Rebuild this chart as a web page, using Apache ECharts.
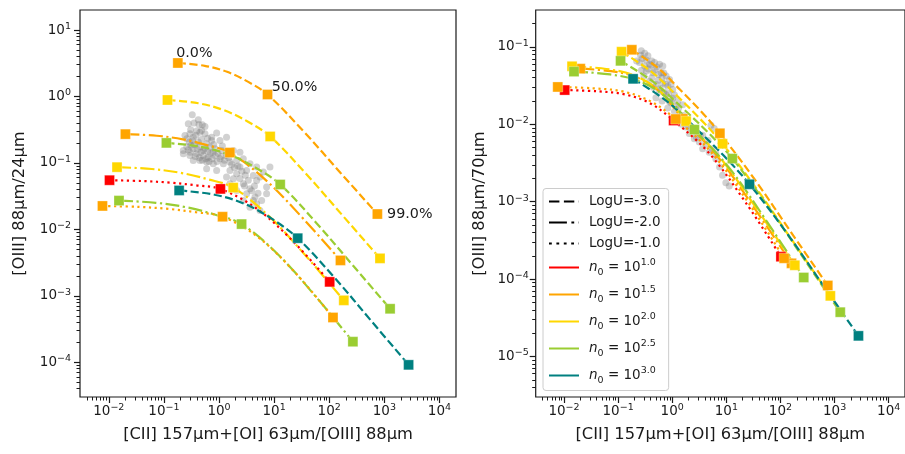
<!DOCTYPE html>
<html><head><meta charset="utf-8">
<script src="https://cdn.jsdelivr.net/npm/echarts@6/dist/echarts.min.js"></script>
<style>html,body{margin:0;padding:0;background:#fff}#c{width:905px;height:454px}</style>
</head><body><div id="c"></div>
<script>
// ---------------- data ----------------
const densityLevels = ['1.0', '1.5', '2.0', '2.5', '3.0'];
const logULevels = ['-3.0', '-2.0', '-1.0'];

// nine model tracks (density, logU); points run from 0% to 99% mixing fraction
const modelDensity = ['1.5', '2.0', '1.5', '2.5', '2.0', '1.0', '3.0', '2.5', '1.5'];
const modelLogU = ['-3.0', '-3.0', '-2.0', '-3.0', '-2.0', '-1.0', '-3.0', '-2.0', '-1.0'];
const modelX = [
  [0.179, 0.550, 1.40, 3.33, 7.59, 34.5, 164, 748],
  [0.116, 0.420, 1.23, 3.30, 8.49, 38.6, 184, 835],
  [0.0200, 0.0741, 0.221, 0.603, 1.57, 7.23, 34.8, 160],
  [0.111, 0.462, 1.52, 4.54, 12.9, 58.9, 280, 1273],
  [0.0141, 0.0604, 0.203, 0.621, 1.81, 8.32, 40.0, 184],
  [0.0103, 0.0415, 0.132, 0.384, 1.06, 4.80, 22.6, 102],
  [0.189, 0.836, 2.88, 9.02, 26.8, 124, 598, 2760],
  [0.0153, 0.0713, 0.256, 0.834, 2.57, 11.9, 57.9, 269],
  [0.00767, 0.0345, 0.121, 0.384, 1.16, 5.31, 25.5, 117]
];
const modelY24 = [
  [3.19, 2.89, 2.35, 1.67, 1.07, 0.296, 0.0695, 0.0170],
  [0.885, 0.791, 0.621, 0.420, 0.250, 0.0675, 0.0154, 0.00366],
  [0.271, 0.256, 0.226, 0.185, 0.143, 0.0541, 0.0141, 0.00341],
  [0.200, 0.175, 0.133, 0.0853, 0.0473, 0.0124, 0.00276, 0.000638],
  [0.0863, 0.0809, 0.0708, 0.0568, 0.0425, 0.0154, 0.00377, 0.000854],
  [0.0549, 0.0533, 0.0504, 0.0459, 0.0406, 0.0206, 0.00647, 0.00162],
  [0.0385, 0.0332, 0.0243, 0.0145, 0.00736, 0.00189, 0.000406, 0.0000914],
  [0.0271, 0.0251, 0.0215, 0.0167, 0.0120, 0.00416, 0.000959, 0.000204],
  [0.0225, 0.0218, 0.0203, 0.0181, 0.0155, 0.00745, 0.00212, 0.000472]
];
const modelY70 = [
  [0.0919, 0.0532, 0.0279, 0.0150, 0.00766, 0.00188, 0.000385, 0.0000828],
  [0.0867, 0.0474, 0.0233, 0.0117, 0.00561, 0.00138, 0.000283, 0.0000608],
  [0.0524, 0.0486, 0.0406, 0.0260, 0.0118, 0.00369, 0.000785, 0.000160],
  [0.0661, 0.0348, 0.0164, 0.00791, 0.00361, 0.000875, 0.000177, 0.0000374],
  [0.0562, 0.0519, 0.0426, 0.0261, 0.0110, 0.00345, 0.000736, 0.000151],
  [0.0277, 0.0267, 0.0244, 0.0188, 0.0112, 0.00424, 0.000984, 0.000195],
  [0.0387, 0.0194, 0.00859, 0.00392, 0.00168, 0.000415, 0.0000857, 0.0000185],
  [0.0480, 0.0441, 0.0358, 0.0213, 0.00855, 0.00261, 0.000536, 0.000105],
  [0.0304, 0.0292, 0.0266, 0.0201, 0.0117, 0.00432, 0.000973, 0.000186]
];
const markerIndex = [0, 4, 7];
const fractionLabels = ['0.0%', '50.0%', '99.0%'];

// observed sample (grey points)
const cloud24X = [0.327,0.277,0.352,0.433,0.498,0.306,0.393,0.484,0.556,0.906,0.735,0.241,0.341,0.289,0.421,0.596,1.04,1.37,0.225,0.277,0.341,0.451,0.519,0.686,0.846,1.12,0.225,0.297,0.393,0.519,0.640,0.846,1.04,1.37,1.82,2.40,0.341,0.451,0.596,0.787,1.20,1.58,2.09,2.76,3.65,4.82,0.906,1.58,2.40,3.17,4.19,5.54,1.82,2.76,3.65,4.82,2.09,3.17,4.19,4.82,5.54,2.76,3.65,4.50,5.94,7.31,1.37,6.37,8.41,2.09,7.31,1.58,0.596,0.735,0.556,0.421,0.297,
  0.26,0.31,0.36,0.40,0.47,0.55,0.62,0.70,0.78,0.95,1.1,0.30,0.37,0.44,0.50,0.58,0.66,0.75,0.92,1.25,1.5,1.7,1.9,2.2,2.6,3.0,3.4,2.4,2.9,3.9,4.4,5.1,0.26,0.33,0.48,0.62,0.38,0.45,0.80,1.15];
const cloud24Y = [0.530,0.388,0.397,0.379,0.375,0.315,0.301,0.308,0.274,0.281,0.244,0.259,0.244,0.206,0.206,0.194,0.218,0.244,0.154,0.158,0.163,0.173,0.154,0.173,0.163,0.154,0.137,0.129,0.137,0.129,0.122,0.129,0.115,0.129,0.154,0.145,0.109,0.109,0.103,0.0970,0.0970,0.103,0.109,0.115,0.0970,0.0865,0.0771,0.0771,0.0865,0.0771,0.0649,0.0612,0.0577,0.0486,0.0408,0.0545,0.0385,0.0344,0.0272,0.0243,0.0193,0.0272,0.0216,0.0306,0.0272,0.0344,0.0612,0.0728,0.0865,0.0687,0.0433,0.0486,0.0817,0.218,0.354,0.446,0.274,
  0.175,0.185,0.19,0.16,0.145,0.165,0.15,0.14,0.145,0.14,0.125,0.145,0.125,0.12,0.11,0.115,0.105,0.115,0.105,0.11,0.12,0.095,0.085,0.09,0.075,0.065,0.055,0.058,0.045,0.038,0.045,0.035,0.23,0.215,0.225,0.235,0.26,0.29,0.19,0.18];
const cloud70X = [0.249,0.308,0.381,0.471,0.582,0.670,0.331,0.439,0.624,0.771,0.889,0.381,0.505,0.670,0.828,1.02,0.582,0.771,1.02,1.26,0.889,1.18,1.56,0.828,1.10,1.36,1.80,2.07,2.56,3.16,3.65,4.83,6.41,2.75,3.65,6.41,9.79,11.3,5.97,5.19,0.268,0.355,
  0.22,0.28,0.33,0.42,0.52,0.27,0.36,0.48,0.56,0.7,0.30,0.42,0.55,0.65,0.75,0.95,0.45,0.6,0.7,0.85,1.1,0.5,0.65,0.95,1.3,1.6,1.2,1.5,2.0,2.3,2.8,3.3,4.2,4.6,5.5,7.5,8.5,0.26,0.31,0.4];
const cloud70Y = [0.0628,0.0568,0.0597,0.0628,0.0597,0.0568,0.0488,0.0464,0.0464,0.0420,0.0380,0.0361,0.0326,0.0343,0.0310,0.0281,0.0267,0.0241,0.0218,0.0197,0.0197,0.0170,0.0179,0.0162,0.0146,0.0126,0.00927,0.00759,0.00652,0.00590,0.00482,0.00436,0.00415,0.00798,0.00722,0.00357,0.00176,0.00160,0.00882,0.00976,0.0893,0.0767,
  0.066,0.071,0.068,0.066,0.055,0.05,0.052,0.051,0.044,0.046,0.042,0.04,0.037,0.040,0.033,0.033,0.030,0.029,0.026,0.025,0.024,0.022,0.020,0.019,0.016,0.013,0.012,0.010,0.0095,0.0085,0.0068,0.0072,0.0055,0.0062,0.0048,0.0028,0.0022,0.078,0.083,0.058];

// axes
const xLimits = [3e-3, 2e4];
const y24Limits = [3e-5, 20];
const y70Limits = [3e-6, 0.3];
const xTickExponents = [-2, -1, 0, 1, 2, 3, 4];
const y24TickExponents = [-4, -3, -2, -1, 0, 1];
const y70TickExponents = [-5, -4, -3, -2, -1];
const xTitle = '[CII] 157µm+[OI] 63µm/[OIII] 88µm';
const y24Title = '[OIII] 88µm/24µm';
const y70Title = '[OIII] 88µm/70µm';

// ---------------- style ----------------
const FONT = 'DejaVu Sans';
const INK = '#1a1a1a';
const densityColor = {'1.0': '#ff0000', '1.5': '#ffa500', '2.0': '#ffd700', '2.5': '#9acd32', '3.0': '#008080'};
const LW = 2.2;
const logUDash = {'-3.0': [8.1, 3.5], '-2.0': [14.1, 3.5, 2.2, 3.5], '-1.0': [2.2, 3.6]};
const LLW = 2.8;
const legendDash = {'-3.0': [10.4, 4.5], '-2.0': [17.9, 4.5, 2.8, 4.5], '-1.0': [2.8, 4.6]};
const lg = Math.log10;

function minorTicks(lo, hi) {
  const out = [];
  for (let d = Math.floor(lo); d <= Math.ceil(hi); d++) {
    for (let k = 2; k <= 9; k++) { const v = d + lg(k); if (v > lo && v < hi) out.push(v); }
  }
  return out;
}
function expLabel(v) {
  const e = Math.round(v);
  return '{b|10}{s|' + (e < 0 ? '\u2212' + (-e) : String(e)) + '}';
}
const tickRich = {
  b: {fontFamily: FONT, fontSize: 13.5, lineHeight: 17, color: INK},
  s: {fontFamily: FONT, fontSize: 9.5, lineHeight: 7, verticalAlign: 'top', color: INK}
};
function logAxis(grid, lim, pos) {
  return {type: 'log', logBase: 10, gridIndex: grid, position: pos, min: lim[0], max: lim[1], show: false,
    axisLine: {onZero: false}};
}
function majorAxis(grid, lim, ticks, pos, title, gap, margin) {
  return {
    type: 'value', gridIndex: grid, position: pos, min: lg(lim[0]), max: lg(lim[1]),
    axisLine: {show: false, onZero: false}, splitLine: {show: false},
    axisTick: {show: true, length: 6, lineStyle: {color: INK, width: 1.2}, customValues: ticks},
    axisLabel: {show: true, customValues: ticks, formatter: expLabel, margin: margin, rich: tickRich},
    name: title, nameLocation: 'middle', nameGap: gap,
    nameTextStyle: {fontFamily: FONT, fontSize: 16.3, color: INK}
  };
}
function minorAxis(grid, lim, pos) {
  return {
    type: 'value', gridIndex: grid, position: pos, min: lg(lim[0]), max: lg(lim[1]),
    axisLine: {show: false, onZero: false}, splitLine: {show: false},
    axisTick: {show: true, length: 3.5, lineStyle: {color: INK, width: 1}, customValues: minorTicks(lg(lim[0]), lg(lim[1]))},
    axisLabel: {show: false}
  };
}

const series = [];
function addPanel(p, ys, cx, cy) {
  series.push({
    type: 'scatter', xAxisIndex: p, yAxisIndex: p, z: 2, silent: true,
    symbol: 'circle', symbolSize: 7,
    itemStyle: {color: 'rgba(128,128,128,0.45)'},
    data: cx.map((x, i) => [x, cy[i]])
  });
  modelX.forEach((xs, m) => {
    const col = densityColor[modelDensity[m]];
    series.push({
      type: 'line', xAxisIndex: p, yAxisIndex: p, z: 3, silent: true,
      symbol: 'none', smooth: 0.35,
      lineStyle: {color: col, width: LW, type: logUDash[modelLogU[m]]},
      data: xs.map((x, i) => [x, ys[m][i]])
    });
  });
  modelX.forEach((xs, m) => {
    const col = densityColor[modelDensity[m]];
    series.push({
      type: 'scatter', xAxisIndex: p, yAxisIndex: p, z: 4, silent: true,
      symbol: 'rect', symbolSize: 10,
      itemStyle: {color: col, opacity: 1, borderColor: 'rgba(255,255,255,0.5)', borderWidth: 0.6},
      data: markerIndex.map((j, k) => {
        const item = {value: [xs[j], ys[m][j]]};
        if (p === 0 && m === 0) {
          const offs = [[-7, -9.5], [-1, -7.6], [4.4, 0]];
          item.label = {show: true, formatter: fractionLabels[k], position: 'right', distance: 0,
            offset: offs[k], fontFamily: FONT, fontSize: 14.3, color: INK};
        }
        return item;
      })
    });
  });
}
addPanel(0, modelY24, cloud24X, cloud24Y);
addPanel(1, modelY70, cloud70X, cloud70Y);

// legend entries (line style -> logU, colour -> density)
const legendData = [];
logULevels.forEach(u => {
  const name = 'LogU=' + u;
  legendData.push({name: name});
  series.push({type: 'line', name: name, xAxisIndex: 1, yAxisIndex: 1, data: [], symbol: 'none',
    itemStyle: {color: '#000'}, lineStyle: {color: '#000', width: LLW, type: legendDash[u]}});
});
densityLevels.forEach(n => {
  const name = 'n0=' + n;
  legendData.push({name: name});
  series.push({type: 'line', name: name, xAxisIndex: 1, yAxisIndex: 1, data: [], symbol: 'none',
    itemStyle: {color: densityColor[n]}, lineStyle: {color: densityColor[n], width: LLW, type: 'solid'}});
});

const option = {
  animation: false,
  backgroundColor: '#fff',
  grid: [
    {left: 80, top: 10, width: 376, height: 387, show: true, borderColor: INK, borderWidth: 1.2, backgroundColor: 'transparent'},
    {left: 535.7, top: 10, width: 376, height: 387, show: true, borderColor: INK, borderWidth: 1.2, backgroundColor: 'transparent'}
  ],
  xAxis: [
    logAxis(0, xLimits, 'bottom'), logAxis(1, xLimits, 'bottom'),
    majorAxis(0, xLimits, xTickExponents, 'bottom', xTitle, 30, 6),
    minorAxis(0, xLimits, 'bottom'),
    majorAxis(1, xLimits, xTickExponents, 'bottom', xTitle, 30, 6),
    minorAxis(1, xLimits, 'bottom')
  ],
  yAxis: [
    logAxis(0, y24Limits, 'left'), logAxis(1, y70Limits, 'left'),
    majorAxis(0, y24Limits, y24TickExponents, 'left', y24Title, 52, 9),
    minorAxis(0, y24Limits, 'left'),
    majorAxis(1, y70Limits, y70TickExponents, 'left', y70Title, 48, 7),
    minorAxis(1, y70Limits, 'left')
  ],
  legend: {
    orient: 'vertical', left: 543, top: 188.5,
    padding: [6, 8, 5, 5], itemGap: 7, itemWidth: 30, itemHeight: 14,
    backgroundColor: 'rgba(255,255,255,0.8)', borderColor: '#cccccc', borderWidth: 1, borderRadius: 3,
    selectedMode: false,
    itemStyle: {color: 'rgba(0,0,0,0)', borderWidth: 0},
    data: legendData,
    formatter: function (name) {
      if (name.indexOf('n0=') === 0) return '{i|n}{sub|0}{t| = 10}{sup|' + name.slice(3) + '}';
      return name;
    },
    textStyle: {
      fontFamily: FONT, fontSize: 13.5, lineHeight: 14, color: INK, padding: [0, 0, 0, 5],
      rich: {
        i: {fontFamily: FONT, fontStyle: 'italic', fontSize: 13.5, lineHeight: 20, color: INK},
        sub: {fontFamily: FONT, fontSize: 9.5, lineHeight: 13, verticalAlign: 'bottom', color: INK},
        t: {fontFamily: FONT, fontSize: 13.5, lineHeight: 20, color: INK},
        sup: {fontFamily: FONT, fontSize: 9.5, lineHeight: 9, verticalAlign: 'top', color: INK}
      }
    }
  },
  series: series
};
const chart = echarts.init(document.getElementById('c'));
chart.setOption(option);
</script>
</body></html>
